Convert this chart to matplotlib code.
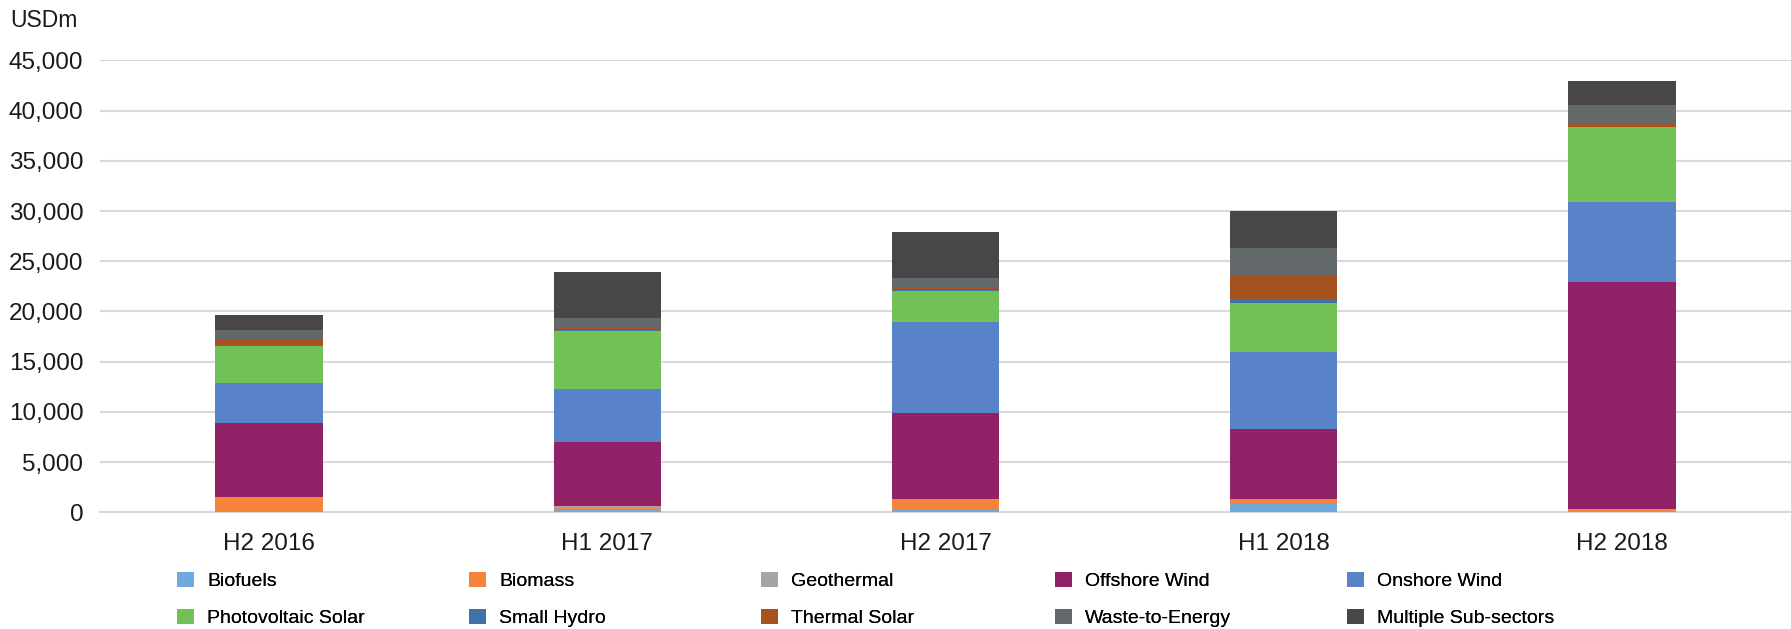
import matplotlib.pyplot as plt
import numpy as np

plt.rcParams['font.family'] = ['Liberation Sans', 'DejaVu Sans']

periods = ['H2 2016', 'H1 2017', 'H2 2017', 'H1 2018', 'H2 2018']
sectors = ['Biofuels', 'Biomass', 'Geothermal', 'Offshore Wind', 'Onshore Wind',
           'Photovoltaic Solar', 'Small Hydro', 'Thermal Solar', 'Waste-to-Energy',
           'Multiple Sub-sectors']

# USDm per half-year
biofuels = [0, 350, 300, 970, 0]
biomass = [1550, 50, 1000, 330, 300]
geothermal = [0, 260, 0, 0, 0]
offshore = [7370, 6370, 8570, 6970, 22680]
onshore = [3980, 5250, 9120, 7670, 7930]
pv_solar = [3690, 5810, 3090, 4910, 7410]
small_hydro = [0, 50, 50, 300, 0]
thermal = [640, 230, 270, 2360, 300]
waste = [930, 970, 930, 2790, 1920]
multiple = [1490, 4580, 4580, 3720, 2390]

series = [biofuels, biomass, geothermal, offshore, onshore,
          pv_solar, small_hydro, thermal, waste, multiple]
colors = ['#6FA9DE', '#F4853A', '#A5A5A5', '#922268', '#5883C9',
          '#72C156', '#3E72A8', '#A6521E', '#63686B', '#474747']

fig = plt.figure(figsize=(17.91, 6.29), dpi=100)
ax = fig.add_axes([0.0558, 0.1855, 0.9442, 0.7185])

x = np.arange(len(periods))
bottom = np.zeros(len(periods))
handles = []
for name, vals, col in zip(sectors, series, colors):
    b = ax.bar(x, vals, width=0.317, bottom=bottom, color=col, label=name, zorder=3)
    handles.append(b)
    bottom += np.array(vals)

ax.set_xlim(-0.5, 4.5)
ax.set_ylim(0, 45000)
ax.set_yticks(np.arange(0, 45001, 5000))
ax.set_yticklabels([f'{v:,}' for v in range(0, 45001, 5000)])
ax.set_xticks(x)
ax.set_xticklabels(periods)
ax.tick_params(axis='both', length=0, labelsize=17.5, colors='#1a1a1a')
ax.tick_params(axis='y', pad=12)
ax.tick_params(axis='x', pad=15)
ax.grid(axis='y', color='#D9D9D9', lw=1.5, zorder=0)
for s in ['top', 'right', 'left']:
    ax.spines[s].set_visible(False)
ax.spines['bottom'].set_color('#D9D9D9')
ax.spines['bottom'].set_linewidth(1.5)

fig.text(0.006, 0.968, 'USDm', fontsize=16.5, color='#1a1a1a', va='center')

# legend: five columns, evenly spaced
col_x = [171, 463, 755, 1049, 1341]
for i, cx in enumerate(col_x):
    leg = fig.legend([handles[i], handles[i + 5]], [sectors[i], sectors[i + 5]],
                     loc='upper left', bbox_to_anchor=(cx / 1791 - 0.002, 1 - 562 / 629),
                     frameon=False, fontsize=14, handlelength=0.85, handleheight=0.85,
                     handletextpad=0.7, labelspacing=0.95, borderpad=0)
    fig.add_artist(leg)

plt.savefig('out.png', dpi=100)
